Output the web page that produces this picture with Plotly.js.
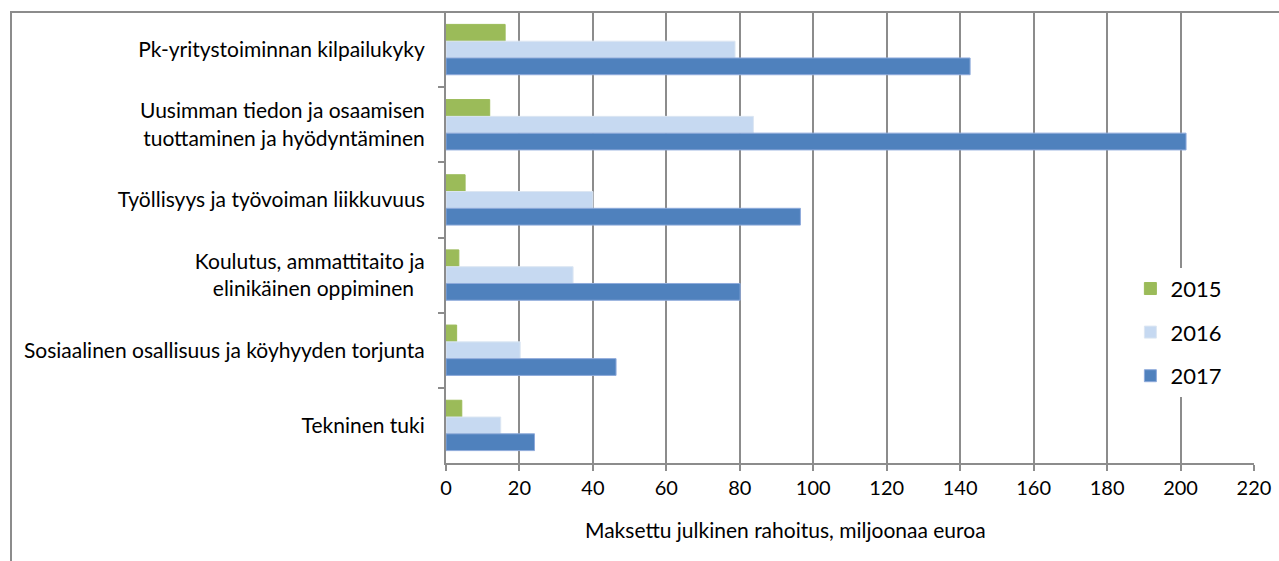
<!DOCTYPE html>
<html>
<head>
<meta charset="utf-8">
<script src="https://cdn.plot.ly/plotly-3.0.1.min.js"></script>
<style>
html,body{margin:0;padding:0;background:#fff;}
#wrap{position:relative;width:1279px;height:561px;overflow:hidden;}
#chart{position:absolute;left:0;top:0;width:1279px;height:561px;}
#frame{position:absolute;left:10px;top:11px;width:1300px;height:600px;border-left:2px solid #8c8c8c;border-top:2px solid #8c8c8c;pointer-events:none;}
</style>
</head>
<body>
<div id="wrap"><div id="chart"></div><div id="frame"></div></div>
<script>
const categories = [
  "Pk-yritystoiminnan kilpailukyky",
  "Uusimman tiedon ja osaamisen<br>tuottaminen ja hyödyntäminen",
  "Työllisyys ja työvoiman liikkuvuus",
  "Koulutus, ammattitaito ja<br>elinikäinen oppiminen\u00a0\u00a0",
  "Sosiaalinen osallisuus ja köyhyyden torjunta",
  "Tekninen tuki"
];
const seriesNames = ["2015", "2016", "2017"];
const values2015 = [16.1, 11.9, 5.2, 3.5, 2.9, 4.3];
const values2016 = [78.7, 83.7, 40.0, 34.6, 20.2, 14.9];
const values2017 = [142.7, 201.5, 96.5, 80.1, 46.3, 24.1];
const xTicks = [0,20,40,60,80,100,120,140,160,180,200,220];
const xTitle = "Maksettu julkinen rahoitus, miljoonaa euroa";

const colors = ["#9BBB59", "#C6D9F1", "#4F81BD"];
const lineColors = ["#9BBB59", "#DCE6F2", "#8EAADB"];
const allValues = [values2015, values2016, values2017];

const font = "Lato, Open Sans, sans-serif";
const traces = allValues.map((v, i) => ({
  type: "bar",
  orientation: "h",
  name: seriesNames[i],
  x: v,
  y: categories,
  legendgroup: "g" + i,
  marker: {color: colors[i], line: {color: lineColors[i], width: 1}},
  hoverinfo: "x+name"
}));

const layout = {
  width: 1279, height: 561,
  margin: {l: 445.5, r: 24.7, t: 12, b: 98, pad: 0},
  paper_bgcolor: "#fff", plot_bgcolor: "#fff",
  barmode: "group",
  bargap: 0.33, bargroupgap: 0,
  font: {family: font, color: "#000", size: 20},
  showlegend: true,
  legend: {
    x: 0.847, y: 0.433, xanchor: "left", yanchor: "top",
    bgcolor: "#fff", font: {size: 22, family: font, color: "#000"},
    traceorder: "grouped", tracegroupgap: 12,
    itemwidth: 30
  },
  xaxis: {
    range: [0, 220], tickvals: xTicks, ticktext: xTicks.map(String),
    showgrid: true, gridcolor: "#8c8c8c", gridwidth: 2,
    showline: true, linecolor: "#8c8c8c", linewidth: 2,
    ticks: "outside", ticklen: 6, tickcolor: "#8c8c8c", tickwidth: 2,
    tickfont: {size: 20, family: font, color: "#000"},
    zeroline: false, fixedrange: true
  },
  yaxis: {
    type: "category", autorange: "reversed",
    showgrid: false, zeroline: false,
    showline: true, linecolor: "#8c8c8c", linewidth: 2,
    ticks: "outside", ticklen: 6, tickcolor: "#8c8c8c", tickwidth: 2,
    tickson: "boundaries",
    ticklabelstandoff: 15,
    tickfont: {size: 21, family: font, color: "#000"},
    fixedrange: true
  },
  annotations: [{
    text: xTitle, xref: "paper", yref: "paper",
    x: 0.42, y: -0.148, xanchor: "center", yanchor: "middle",
    showarrow: false, font: {size: 21, family: font, color: "#000"}
  }]
};

Plotly.newPlot("chart", traces, layout, {displayModeBar: false, staticPlot: true});
</script>
</body>
</html>
